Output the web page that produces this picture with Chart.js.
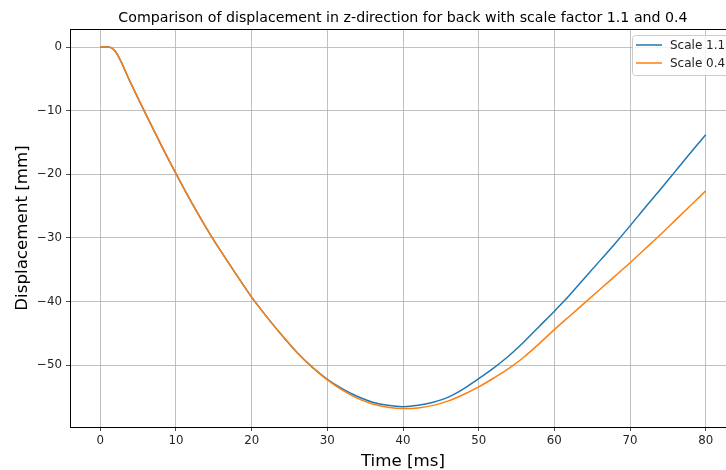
<!DOCTYPE html>
<html>
<head>
<meta charset="utf-8">
<script src="https://cdn.jsdelivr.net/npm/chart.js@4.4.1/dist/chart.umd.min.js"></script>
<style>
html,body{margin:0;padding:0;background:#fff;overflow:hidden;}
#wrap{width:726px;height:470px;overflow:hidden;position:relative;}
#box{width:760px;height:470px;position:absolute;left:0;top:0;}
</style>
</head>
<body>
<div id="wrap"><div id="box"><canvas id="c"></canvas></div></div>
<script>
const times   = [0, 1, 2, 4, 6, 8, 10, 12, 14, 16, 18, 20, 22, 24, 26, 28, 30, 32, 34, 36, 38, 40, 42, 44, 46, 48, 50, 52, 54, 56, 58, 60, 62, 64, 66, 68, 70, 72, 74, 76, 78, 80];
const scale11 = [0, 0, -0.7, -5.6, -10.5, -15.3, -19.9, -24.3, -28.4, -32.2, -35.8, -39.3, -42.4, -45.3, -48.0, -50.3, -52.2, -53.7, -54.9, -55.8, -56.3, -56.5, -56.3, -55.8, -55.0, -53.7, -52.1, -50.4, -48.5, -46.3, -43.9, -41.5, -39.0, -36.3, -33.6, -30.9, -28.1, -25.2, -22.4, -19.5, -16.6, -13.8];
const scale04 = [0, 0, -0.7, -5.6, -10.5, -15.3, -19.9, -24.3, -28.4, -32.2, -35.8, -39.3, -42.4, -45.3, -48.0, -50.3, -52.3, -53.9, -55.2, -56.1, -56.6, -56.8, -56.7, -56.3, -55.6, -54.6, -53.4, -52.0, -50.5, -48.7, -46.6, -44.4, -42.3, -40.2, -38.1, -36.0, -33.9, -31.7, -29.5, -27.2, -24.9, -22.6];
const xTicks = [0, 10, 20, 30, 40, 50, 60, 70, 80];
const yTicks = [0, -10, -20, -30, -40, -50];
const seriesLabels = ['Scale 1.1', 'Scale 0.4'];
const titleText = 'Comparison of displacement in z-direction for back with scale factor 1.1 and 0.4';
const xTitle = 'Time [ms]';
const yTitle = 'Displacement [mm]';

const FONT = '"DejaVu Sans", sans-serif';
const colors = ['#1f77b4', '#ff7f0e'];
const minus = v => String(v).replace('-', '\u2212');

const deco = {
  id: 'deco',
  afterDraw(chart) {
    const ctx = chart.ctx, a = chart.chartArea;
    ctx.save();
    ctx.strokeStyle = '#000';
    ctx.lineWidth = 1;
    ctx.strokeRect(a.left + 0.5, a.top + 0.5, a.right - a.left, a.bottom - a.top);
    const cx = (a.left + a.right) / 2;
    ctx.fillStyle = '#000';
    ctx.textAlign = 'center';
    ctx.textBaseline = 'alphabetic';
    ctx.font = '14.2px ' + FONT;
    ctx.fillText(titleText, cx, 22);
    ctx.font = '16.7px ' + FONT;
    ctx.fillText(xTitle, cx, 466);
    ctx.save();
    ctx.translate(27, (a.top + a.bottom) / 2);
    ctx.rotate(-Math.PI / 2);
    ctx.fillText(yTitle, 0, 0);
    ctx.restore();
    // legend
    const lx = 632, ly = 35, lw = 100, lh = 40;
    ctx.fillStyle = 'rgba(255,255,255,0.8)';
    ctx.strokeStyle = '#cccccc';
    ctx.lineWidth = 1;
    ctx.beginPath();
    if (ctx.roundRect) ctx.roundRect(lx + 0.5, ly + 0.5, lw, lh, 3); else ctx.rect(lx + 0.5, ly + 0.5, lw, lh);
    ctx.fill(); ctx.stroke();
    ctx.font = '12px ' + FONT;
    ctx.textAlign = 'left';
    ctx.textBaseline = 'middle';
    chart.data.datasets.forEach((ds, i) => {
      const y = ly + 10 + i * 18;
      ctx.strokeStyle = ds.borderColor;
      ctx.lineWidth = 1.5;
      ctx.beginPath(); ctx.moveTo(636, y); ctx.lineTo(662, y); ctx.stroke();
      ctx.fillStyle = '#222';
      ctx.fillText(ds.label, 670, y + 1);
    });
    ctx.restore();
  }
};

new Chart(document.getElementById('c'), {
  type: 'line',
  data: {
    datasets: [
      { label: seriesLabels[0], order: 1, data: times.map((t, i) => ({ x: t, y: scale11[i] })), borderColor: colors[0], backgroundColor: colors[0], borderWidth: 1.5, pointRadius: 0, cubicInterpolationMode: 'monotone', fill: false },
      { label: seriesLabels[1], order: 0, data: times.map((t, i) => ({ x: t, y: scale04[i] })), borderColor: colors[1], backgroundColor: colors[1], borderWidth: 1.5, pointRadius: 0, cubicInterpolationMode: 'monotone', fill: false }
    ]
  },
  options: {
    responsive: true,
    maintainAspectRatio: false,
    animation: false,
    devicePixelRatio: 1,
    layout: { padding: { top: 29, right: 24, left: 0, bottom: 0 } },
    plugins: { legend: { display: false }, title: { display: false }, tooltip: { enabled: false } },
    scales: {
      x: {
        type: 'linear', min: -4, max: 84,
        afterFit: s => { s.height = 43; },
        afterBuildTicks: s => { s.ticks = xTicks.map(v => ({ value: v })); },
        ticks: { font: { family: FONT, size: 11.8 }, color: '#222', padding: 3, maxRotation: 0, callback: v => minus(v) },
        grid: { color: '#b0b0b0', lineWidth: 0.8, tickColor: '#222', tickLength: 4, drawTicks: true },
        border: { color: '#000', width: 1 }
      },
      y: {
        type: 'linear', min: -59.7, max: 2.83,
        afterFit: s => { s.width = 70; },
        afterBuildTicks: s => { s.ticks = yTicks.map(v => ({ value: v })); },
        ticks: { font: { family: FONT, size: 11.8 }, color: '#222', padding: 4, callback: v => minus(v) },
        grid: { color: '#b0b0b0', lineWidth: 0.8, tickColor: '#222', tickLength: 4, drawTicks: true },
        border: { color: '#000', width: 1 }
      }
    }
  },
  plugins: [deco]
});
</script>
</body>
</html>
